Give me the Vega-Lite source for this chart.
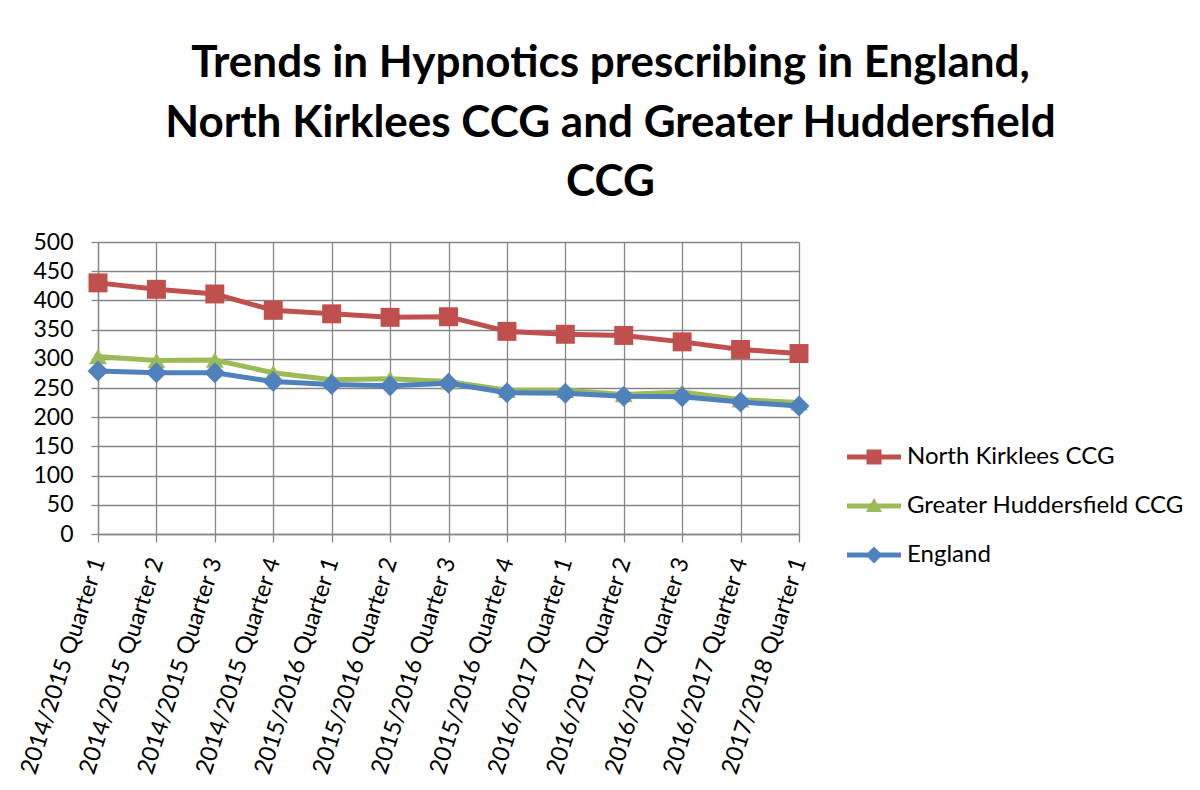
{
  "$schema": "https://vega.github.io/schema/vega-lite/v6.json",
  "width": 701,
  "height": 292,
  "autosize": {"type": "none"},
  "padding": {"left": 98, "top": 242, "right": 401, "bottom": 256},
  "background": "white",
  "title": {
    "text": ["Trends in Hypnotics prescribing in England,", "North Kirklees CCG and Greater Huddersfield", "CCG"],
    "font": "Lato",
    "fontSize": 44,
    "fontWeight": "bold",
    "color": "black",
    "anchor": "middle",
    "dx": 162,
    "lineHeight": 59.5,
    "offset": 26
  },
  "config": {
    "view": {"stroke": null},
    "axis": {
      "gridColor": "#868686",
      "gridWidth": 1.3,
      "gridOpacity": 1,
      "domainColor": "#868686",
      "domainWidth": 1.3,
      "tickColor": "#868686",
      "tickWidth": 1.3,
      "labelColor": "black",
      "labelLimit": 0,
      "title": null
    }
  },
  "data": {
    "values": [
      {"quarter": "2014/2015 Quarter 1", "series": "North Kirklees CCG", "value": 430},
      {"quarter": "2014/2015 Quarter 2", "series": "North Kirklees CCG", "value": 419},
      {"quarter": "2014/2015 Quarter 3", "series": "North Kirklees CCG", "value": 411},
      {"quarter": "2014/2015 Quarter 4", "series": "North Kirklees CCG", "value": 383},
      {"quarter": "2015/2016 Quarter 1", "series": "North Kirklees CCG", "value": 377},
      {"quarter": "2015/2016 Quarter 2", "series": "North Kirklees CCG", "value": 371},
      {"quarter": "2015/2016 Quarter 3", "series": "North Kirklees CCG", "value": 372},
      {"quarter": "2015/2016 Quarter 4", "series": "North Kirklees CCG", "value": 347},
      {"quarter": "2016/2017 Quarter 1", "series": "North Kirklees CCG", "value": 342},
      {"quarter": "2016/2017 Quarter 2", "series": "North Kirklees CCG", "value": 340},
      {"quarter": "2016/2017 Quarter 3", "series": "North Kirklees CCG", "value": 329},
      {"quarter": "2016/2017 Quarter 4", "series": "North Kirklees CCG", "value": 316},
      {"quarter": "2017/2018 Quarter 1", "series": "North Kirklees CCG", "value": 309},
      {"quarter": "2014/2015 Quarter 1", "series": "Greater Huddersfield CCG", "value": 304},
      {"quarter": "2014/2015 Quarter 2", "series": "Greater Huddersfield CCG", "value": 297},
      {"quarter": "2014/2015 Quarter 3", "series": "Greater Huddersfield CCG", "value": 298},
      {"quarter": "2014/2015 Quarter 4", "series": "Greater Huddersfield CCG", "value": 276},
      {"quarter": "2015/2016 Quarter 1", "series": "Greater Huddersfield CCG", "value": 264},
      {"quarter": "2015/2016 Quarter 2", "series": "Greater Huddersfield CCG", "value": 266},
      {"quarter": "2015/2016 Quarter 3", "series": "Greater Huddersfield CCG", "value": 261},
      {"quarter": "2015/2016 Quarter 4", "series": "Greater Huddersfield CCG", "value": 246},
      {"quarter": "2016/2017 Quarter 1", "series": "Greater Huddersfield CCG", "value": 246},
      {"quarter": "2016/2017 Quarter 2", "series": "Greater Huddersfield CCG", "value": 239},
      {"quarter": "2016/2017 Quarter 3", "series": "Greater Huddersfield CCG", "value": 243},
      {"quarter": "2016/2017 Quarter 4", "series": "Greater Huddersfield CCG", "value": 230},
      {"quarter": "2017/2018 Quarter 1", "series": "Greater Huddersfield CCG", "value": 225},
      {"quarter": "2014/2015 Quarter 1", "series": "England", "value": 279},
      {"quarter": "2014/2015 Quarter 2", "series": "England", "value": 276},
      {"quarter": "2014/2015 Quarter 3", "series": "England", "value": 276},
      {"quarter": "2014/2015 Quarter 4", "series": "England", "value": 261},
      {"quarter": "2015/2016 Quarter 1", "series": "England", "value": 256},
      {"quarter": "2015/2016 Quarter 2", "series": "England", "value": 254},
      {"quarter": "2015/2016 Quarter 3", "series": "England", "value": 258},
      {"quarter": "2015/2016 Quarter 4", "series": "England", "value": 242},
      {"quarter": "2016/2017 Quarter 1", "series": "England", "value": 241},
      {"quarter": "2016/2017 Quarter 2", "series": "England", "value": 236},
      {"quarter": "2016/2017 Quarter 3", "series": "England", "value": 235},
      {"quarter": "2016/2017 Quarter 4", "series": "England", "value": 226},
      {"quarter": "2017/2018 Quarter 1", "series": "England", "value": 219}
    ]
  },
  "encoding": {
    "x": {
      "field": "quarter",
      "type": "ordinal",
      "sort": null,
      "scale": {"type": "point", "padding": 0},
      "axis": {
        "grid": true,
        "tickSize": 8,
        "labelAngle": -72,
        "labelAlign": "right",
        "labelBaseline": "middle",
        "labelFont": "Lato",
        "labelFontSize": 23.5,
        "labelPadding": 16
      }
    },
    "y": {
      "field": "value",
      "type": "quantitative",
      "scale": {"domain": [0, 500], "nice": false},
      "axis": {
        "values": [0, 50, 100, 150, 200, 250, 300, 350, 400, 450, 500],
        "grid": true,
        "tickSize": 7,
        "labelFont": "Lato",
        "labelFontSize": 23,
        "labelPadding": 18
      }
    }
  },
  "layer": [
    {
      "transform": [{"filter": "datum.series === 'North Kirklees CCG'"}],
      "mark": {
        "type": "line",
        "color": "#C0504D",
        "strokeWidth": 5,
        "point": {"shape": "square", "size": 360, "filled": true, "color": "#C0504D", "opacity": 1}
      }
    },
    {
      "transform": [{"filter": "datum.series === 'Greater Huddersfield CCG'"}],
      "mark": {
        "type": "line",
        "color": "#9BBB59",
        "strokeWidth": 5,
        "point": {"shape": "triangle-up", "size": 320, "filled": true, "color": "#9BBB59", "opacity": 1}
      }
    },
    {
      "transform": [{"filter": "datum.series === 'England'"}],
      "mark": {
        "type": "line",
        "color": "#4F81BD",
        "strokeWidth": 5,
        "point": {"shape": "diamond", "size": 440, "filled": true, "color": "#4F81BD", "opacity": 1}
      }
    },
    {
      "mark": {"type": "point", "filled": true, "opacity": 0},
      "encoding": {
        "color": {
          "field": "series",
          "type": "nominal",
          "scale": {
            "domain": ["North Kirklees CCG", "Greater Huddersfield CCG", "England"],
            "range": ["#C0504D", "#9BBB59", "#4F81BD"]
          },
          "legend": {
            "title": null,
            "orient": "none",
            "legendX": 764,
            "legendY": 203,
            "padding": 0,
            "labelFont": "Lato",
            "labelFontSize": 24,
            "labelColor": "black",
            "labelLimit": 0,
            "labelOffset": 21,
            "rowPadding": 25,
            "symbolSize": 400,
            "symbolStrokeWidth": 0,
            "symbolOpacity": 1
          }
        },
        "shape": {
          "field": "series",
          "type": "nominal",
          "scale": {
            "domain": ["North Kirklees CCG", "Greater Huddersfield CCG", "England"],
            "range": [
              "M-2.7,-0.25H2.7V0.25H-2.7Z M-0.75,-0.75H0.75V0.75H-0.75Z",
              "M-2.7,-0.25H2.7V0.25H-2.7Z M0,-0.8L0.8,0.6H-0.8Z",
              "M-2.7,-0.25H2.7V0.25H-2.7Z M0,-0.85L0.85,0L0,0.85L-0.85,0Z"
            ]
          },
          "legend": {
            "title": null,
            "orient": "none",
            "legendX": 764,
            "legendY": 203,
            "padding": 0,
            "labelFont": "Lato",
            "labelFontSize": 24,
            "labelColor": "black",
            "labelLimit": 0,
            "labelOffset": 21,
            "rowPadding": 25,
            "symbolSize": 400,
            "symbolStrokeWidth": 0,
            "symbolOpacity": 1
          }
        }
      }
    }
  ]
}
